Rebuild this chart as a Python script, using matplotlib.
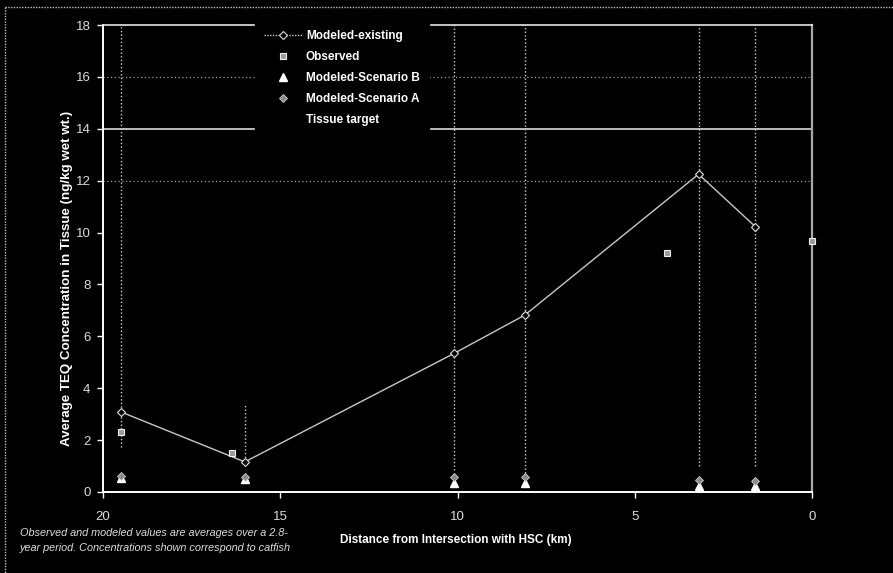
import matplotlib
matplotlib.use("Agg")
import matplotlib.pyplot as plt
from matplotlib.lines import Line2D

plt.rcParams["font.family"] = ["Liberation Sans", "DejaVu Sans"]

# Sampling stations (km from intersection with HSC)
station_km = [19.5, 16.0, 10.1, 8.1, 3.2, 1.6]
modeled_existing = [3.09, 1.16, 5.34, 6.82, 12.25, 10.23]
scenario_a = [0.62, 0.58, 0.57, 0.59, 0.46, 0.44]
scenario_b = [0.55, 0.50, 0.36, 0.36, 0.24, 0.23]

# Observed averages
observed_km = [19.5, 16.35, 4.1, 0.0]
observed = [2.32, 1.49, 9.20, 9.66]

# Spread of observations at each station (clipped at the axis top)
range_low = [1.75, 1.20, 0.85, 0.73, 1.00, 1.00]
range_high = [18.0, 3.35, 18.0, 18.0, 18.0, 18.0]

tissue_target = 14.0

x_ticks = [20, 15, 10, 5, 0]
y_ticks = [0, 2, 4, 6, 8, 10, 12, 14, 16, 18]

BG = "black"
FG = "white"
TXT = "#dcdcdc"

fig = plt.figure(figsize=(8.93, 5.73), dpi=100, facecolor=BG)
ax = fig.add_axes([103 / 893, 1 - 492 / 573, 709 / 893, 467 / 573], facecolor=BG)

ax.set_xlim(20, 0)
ax.set_ylim(0, 18)

# faint gridlines
for g in (12, 16):
    ax.axhline(g, color="#9a9a9a", lw=0.9, ls=(0, (1, 2)), zorder=1)

# observation ranges
ax.vlines(station_km, range_low, range_high, colors="#d0d0d0",
          linestyles=(0, (1, 1.6)), lw=1.0, zorder=2)

# tissue target
ax.axhline(tissue_target, color="#bdbdbd", lw=1.4, zorder=2, label="Tissue target")

ax.plot(station_km, modeled_existing, color="#c8c8c8", lw=1.0, marker="D",
        ms=4, mfc=BG, mec="#e0e0e0", mew=0.8, zorder=3, label="Modeled-existing")
ax.plot(observed_km, observed, ls="none", marker="s", ms=5, mfc="#9a9a9a",
        mec="#f0f0f0", mew=0.8, zorder=4, label="Observed", clip_on=False)
ax.plot(station_km, scenario_b, ls="none", marker="^", ms=5.5, mfc=FG,
        mec=FG, zorder=4, label="Modeled-Scenario B")
ax.plot(station_km, scenario_a, ls="none", marker="D", ms=4, mfc="#8a8a8a",
        mec="#cfcfcf", mew=0.6, zorder=5, label="Modeled-Scenario A")

# spines
for side in ("left", "bottom"):
    ax.spines[side].set_color(FG)
    ax.spines[side].set_linewidth(1.4)
ax.spines["top"].set_color("#e6e6e6")
ax.spines["top"].set_linewidth(1.2)
ax.spines["right"].set_color("#a8a8a8")
ax.spines["right"].set_linewidth(1.6)

ax.set_xticks(x_ticks)
ax.set_yticks(y_ticks)
ax.set_xticklabels([str(v) for v in x_ticks])
ax.set_yticklabels([str(v) for v in y_ticks])
ax.tick_params(axis="both", colors=FG, labelcolor=TXT, labelsize=9.5,
               length=4, width=1, direction="out")
ax.tick_params(axis="x", pad=10)
ax.tick_params(axis="y", pad=5)

ax.set_xlabel("Distance from Intersection with HSC (km)", color=FG,
              fontsize=8.5, fontweight="bold")
ax.xaxis.set_label_coords(0.498, -0.090)
ax.set_ylabel("Average TEQ Concentration in Tissue (ng/kg wet wt.)", color=FG,
              fontsize=9.6, fontweight="bold")
ax.yaxis.set_label_coords(-0.043, 0.458)

# legend order as shown
handles, labels = ax.get_legend_handles_labels()
order = ["Modeled-existing", "Observed", "Modeled-Scenario B",
         "Modeled-Scenario A", "Tissue target"]
hmap = dict(zip(labels, handles))
leg = ax.legend([hmap[k] for k in order], order, loc="upper left",
                bbox_to_anchor=(255 / 893, 1 - 21 / 573),
                bbox_transform=fig.transFigure, frameon=True,
                facecolor=BG, edgecolor=BG, framealpha=1, fancybox=False,
                borderpad=0.8, borderaxespad=0, handlelength=3.2,
                handletextpad=0.3, labelspacing=0.75, numpoints=1,
                prop={"size": 8.5, "weight": "bold"})
for t in leg.get_texts():
    t.set_color(FG)
leg.legend_handles[0].set_linestyle((0, (1, 1)))
leg.legend_handles[4].set_visible(False)

# note under the chart
fig.text(20 / 893, 1 - 528 / 573,
         "Observed and modeled values are averages over a 2.8-\n"
         "year period. Concentrations shown correspond to catfish",
         color=TXT, fontsize=7.8, fontstyle="italic", va="top", ha="left",
         linespacing=1.65)

# outer frame
fig.add_artist(Line2D([5 / 893, 1.0], [1 - 7 / 573, 1 - 7 / 573],
                      transform=fig.transFigure, color="#bfbfbf", lw=1.0,
                      ls=(0, (1, 1))))
fig.add_artist(Line2D([5 / 893, 5 / 893], [1 - 7 / 573, 0.0],
                      transform=fig.transFigure, color="#bfbfbf", lw=1.0,
                      ls=(0, (1, 1))))

fig.savefig("out.png", dpi=100, facecolor=BG)
